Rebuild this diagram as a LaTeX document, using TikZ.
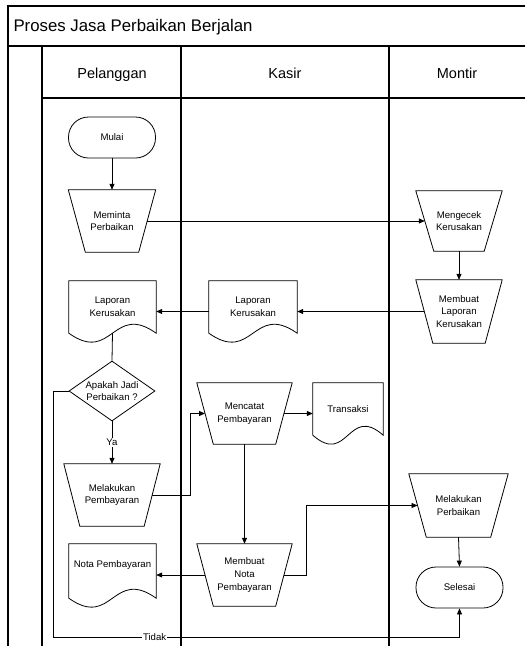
\documentclass[tikz,border=0pt]{standalone}
\usepackage{fontspec}
\setmainfont{Liberation Sans}
\usetikzlibrary{shapes.geometric,arrows.meta,calc}

% outline of a document symbol: straight top and sides, wavy bottom
\newcommand{\docoutline}[1]{%
  \draw[shapeline] (#1.south west) -- (#1.north west) -- (#1.north east) -- (#1.south east)
    .. controls ($(#1.south)+(0,-31)$) and ($(#1.south)+(0,31)$) .. cycle;}

% outline of a manual operation (wide top, narrow bottom); #2 = inset of each bottom corner.
% Also names the midpoints of the slanted sides: <name>-l and <name>-r.
\newcommand{\manoutline}[2]{%
  \draw[shapeline] (#1.north west) -- (#1.north east) -- ($(#1.south east)+(-#2,0)$)
    -- ($(#1.south west)+(#2,0)$) -- cycle;
  \coordinate (#1-l) at ($(#1.west)+(#2/2,0)$);
  \coordinate (#1-r) at ($(#1.east)+(-#2/2,0)$);}

\begin{document}
\begin{tikzpicture}[x=1pt,y=-1pt,
  frame/.style={line width=1.1pt},
  shapeline/.style={line width=0.8pt},
  lbl/.style={font=\fontsize{9.6}{12.8}\selectfont, align=center},
  proc/.style={rectangle, lbl, inner sep=0pt},
  term/.style={rectangle, rounded corners=20pt, draw, shapeline, lbl,
    minimum width=87pt, minimum height=41pt, inner sep=0pt},
  docnode/.style={rectangle, lbl, inner sep=0pt},
  conn/.style={line width=0.8pt},
  arr/.style={conn, -{Triangle[length=6pt,width=5pt]}},
  lanehead/.style={font=\fontsize{14.5}{17}\selectfont, anchor=base},
  tag/.style={lbl, fill=white, inner sep=1pt}
]
\useasboundingbox (0,0) rectangle (525,646);

% pool frame, title band and lanes
\draw[frame] (8,646) -- (8,6) -- (528,6);
\draw[frame] (8,46) -- (528,46);
\draw[frame] (42,98) -- (528,98);
\foreach \lx in {42,181,389} \draw[frame] (\lx,46) -- (\lx,646);

\node[font=\fontsize{16.8}{20}\selectfont, anchor=base west] (title) at (10,31.5) {Proses Jasa Perbaikan Berjalan};
\node[lanehead] (hpel) at (112,78) {Pelanggan};
\node[lanehead] (hkas) at (285,78) {Kasir};
\node[lanehead] (hmon) at (457,78) {Montir};

% Pelanggan
\node[term] (mulai) at (112,137.5) {Mulai};
\node[proc, minimum width=87pt, minimum height=62pt] (minta) at (112,221) {Meminta\\Perbaikan};
\node[docnode, minimum width=87pt, minimum height=52pt] (lappel) at (112.5,307) {Laporan\\Kerusakan};
\node[diamond, draw, shapeline, minimum width=86pt, minimum height=60pt, inner sep=0pt,
  label={[lbl]center:Apakah Jadi\\Perbaikan ?}] (tanya) at (112,391) {};
\node[proc, minimum width=96pt, minimum height=62pt] (bayar) at (112,495) {Melakukan\\Pembayaran};
\node[docnode, minimum width=87pt, minimum height=54pt] (notapel) at (112.5,571) {Nota Pembayaran\\[2pt]};

% Kasir
\node[docnode, minimum width=88pt, minimum height=52pt] (lapkas) at (253,307) {Laporan\\Kerusakan};
\node[proc, minimum width=95pt, minimum height=61pt] (catat) at (244.5,413.5) {Mencatat\\Pembayaran};
\node[docnode, minimum width=70pt, minimum height=52pt] (trans) at (348,409) {Transaksi};
\node[proc, minimum width=95pt, minimum height=62pt] (nota) at (244.5,575) {Membuat\\Nota\\Pembayaran};

% Montir
\node[proc, minimum width=86pt, minimum height=60pt] (cek) at (459,221) {Mengecek\\Kerusakan};
\node[proc, minimum width=86pt, minimum height=63pt] (lapmon) at (459,311.5) {Membuat\\Laporan\\Kerusakan};
\node[proc, minimum width=99pt, minimum height=63pt] (baiki) at (458.5,505.5) {Melakukan\\Perbaikan};
\node[term] (selesai) at (459.5,587.5) {Selesai};

\docoutline{lappel}
\docoutline{notapel}
\docoutline{lapkas}
\docoutline{trans}

\manoutline{minta}{17}
\manoutline{bayar}{16}
\manoutline{catat}{16.5}
\manoutline{nota}{16.5}
\manoutline{cek}{18}
\manoutline{lapmon}{17}
\manoutline{baiki}{17.5}

% bend points of the elbow connectors
\coordinate (k1) at (190,0);
\coordinate (k2) at (306,0);
\coordinate (k3) at (53,637);

% connectors
\draw[arr] (mulai) -- (minta);
\draw[arr] (minta-r) -- (cek-l);
\draw[arr] (cek) -- (lapmon);
\draw[arr] (lapmon-l) -- (lapmon-l -| lapkas.east);
\draw[arr] (lapkas.west |- lapmon-l) -- (lappel.east |- lapmon-l);
\draw[conn] (lappel.south) -- (tanya.north);
\draw[arr] (tanya.south) -- node[tag, pos=0.5] {Ya} (bayar.north);
\draw[arr] (bayar-r) -| (k1 |- catat-l) -- (catat-l);
\draw[arr] (catat-r) -- (catat-r -| trans.west);
\draw[arr] (catat.south) -- (nota.north);
\draw[arr] (nota-l) -- (nota-l -| notapel.east);
\draw[arr] (nota-r) -| (k2 |- baiki-l) -- (baiki-l);
\draw[arr] (baiki.south) -- (selesai.north);
\draw[arr] (tanya.west) -| (k3) -- node[tag, pos=0.25] {Tidak} (k3 -| selesai.south) -- (selesai.south);
\end{tikzpicture}
\end{document}
